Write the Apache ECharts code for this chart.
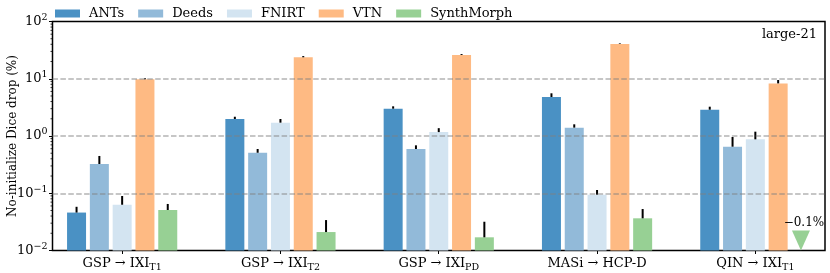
<!DOCTYPE html>
<html><head><meta charset="utf-8">
<script src="https://cdn.jsdelivr.net/npm/echarts@6/dist/echarts.min.js"></script>
<style>html,body{margin:0;padding:0;background:#fff}#c{width:830px;height:273px}</style>
</head><body><div id="c"></div>
<script>
// ---- data ----
const categories = [['GSP → IXI','T1'],['GSP → IXI','T2'],['GSP → IXI','PD'],['MASi → HCP-D',''],['QIN → IXI','T1']];
const methods = ['ANTs','Deeds','FNIRT','VTN','SynthMorph'];
const ants      = [0.046, 1.98, 3.0, 4.8, 2.88];
const antsErr   = [0.058, 2.17, 3.3, 5.57, 3.25];
const deeds     = [0.324, 0.51, 0.593, 1.40, 0.65];
const deedsErr  = [0.448, 0.593, 0.687, 1.6, 0.96];
const fnirt     = [0.063, 1.71, 1.17, 0.0944, 0.875];
const fnirtErr  = [0.0895, 1.98, 1.37, 0.114, 1.19];
const vtn       = [9.8, 23.7, 26.0, 40.5, 8.3];
const vtnErr    = [10.2, 24.9, 27.0, 41.5, 9.5];
const synth     = [0.051, 0.021, 0.017, 0.0365, -0.1];
const synthErr  = [0.065, 0.034, 0.0318, 0.053, null];
const yMin = 0.01, yMax = 100;
const gridLines = [0.1, 1, 10];
const minorTicks = [0.02,0.03,0.04,0.05,0.06,0.07,0.08,0.09,0.2,0.3,0.4,0.5,0.6,0.7,0.8,0.9,2,3,4,5,6,7,8,9,20,30,40,50,60,70,80,90];
const panelLabel = 'large-21';
const yTitle = 'No-initialize Dice drop (%)';

// ---- style ----
const FONT = 'DejaVu Serif';
const colors = ['#4a91c4','#92bad9','#d3e4f1','#feba83','#97d094'];
const BAR_W = 19, GAP = 3.8, PITCH = BAR_W + GAP;
const XMIN = -0.44, XMAX = 4.44;

const values = [ants, deeds, fnirt, vtn, synth];
const errs = [antsErr, deedsErr, fnirtErr, vtnErr, synthErr];

const series = [];
methods.forEach((m, k) => {
  series.push({
    name: m, type: 'bar', barWidth: BAR_W, barGap: (GAP / BAR_W * 100) + '%',
    itemStyle: { color: colors[k] },
    data: values[k].map((v, i) => [i, v > 0 ? v : '-']),
    z: 2
  });
});
methods.forEach((m, k) => {
  series.push({
    type: 'custom', silent: true, z: 4,
    data: values[k].map((v, i) => [i, v, errs[k][i]]).filter(d => d[1] > 0 && d[2] != null),
    encode: { x: 0, y: 1 },
    renderItem: (params, api) => {
      const x = api.value(0);
      const p0 = api.coord([x, api.value(1)]);
      const p1 = api.coord([x, api.value(2)]);
      const dx = (k - 2) * PITCH;
      return { type: 'line', shape: { x1: p0[0] + dx, y1: p0[1], x2: p0[0] + dx, y2: p1[1] },
               style: { stroke: '#000', lineWidth: 2 } };
    }
  });
});
// negative-value marker (SynthMorph)
series.push({
  type: 'custom', silent: true, z: 5,
  data: synth.map((v, i) => [i, v]).filter(d => d[1] < 0),
  encode: { x: 0 },
  renderItem: (params, api) => {
    const x = api.value(0), v = api.value(1);
    const p = api.coord([x, yMin]);
    const cx = p[0] + 2 * PITCH, by = p[1];
    return { type: 'group', children: [
      { type: 'polygon', shape: { points: [[cx - 9, by - 20], [cx + 9, by - 20], [cx, by]] },
        style: { fill: colors[4] } },
      { type: 'text', style: { text: '−' + Math.abs(v) + '%', x: cx + 3, y: by - 28, align: 'center',
        verticalAlign: 'middle', font: '12px "' + FONT + '"', fill: '#000' } }
    ]};
  }
});
// minor ticks
series.push({
  type: 'custom', silent: true, z: 6,
  data: minorTicks.map(t => [XMIN, t]),
  encode: { x: 0, y: 1 },
  renderItem: (params, api) => {
    const p = api.coord([api.value(0), api.value(1)]);
    return { type: 'line', shape: { x1: p[0] - 2, y1: p[1], x2: p[0], y2: p[1] }, style: { stroke: '#000', lineWidth: 0.8 } };
  }
});
// dashed grid lines on top
series.push({
  type: 'line', data: [], z: 8, silent: true,
  markLine: {
    silent: true, symbol: ['none', 'none'], label: { show: false },
    lineStyle: { color: 'rgba(128,128,128,0.6)', width: 1.5, type: [5.5, 2.4] },
    data: gridLines.map(g => ({ yAxis: g }))
  }
});

const option = {
  animation: false,
  backgroundColor: '#fff',
  textStyle: { fontFamily: FONT },
  legend: {
    data: methods, left: 50, top: 2, itemWidth: 25, itemHeight: 8, itemGap: 14, icon: 'rect',
    textStyle: { fontFamily: FONT, fontSize: 13, color: '#000', padding: [0, 0, 0, 4] }
  },
  grid: { left: 52.5, right: 5, top: 21.5, bottom: 22.5, containLabel: false, outerBoundsMode: 'none',
          show: true, borderColor: '#000', borderWidth: 1.5, backgroundColor: 'transparent' },
  xAxis: {
    type: 'value', min: XMIN, max: XMAX,
    axisLine: { show: false, onZero: false },
    splitLine: { show: false },
    axisTick: { show: true, length: 3.5, lineStyle: { color: '#000', width: 1 }, customValues: [0, 1, 2, 3, 4] },
    axisLabel: {
      customValues: [0, 1, 2, 3, 4], margin: 4,
      formatter: v => { const c = categories[Math.round(v)]; if (!c) return ''; return '{m|' + c[0] + '}' + (c[1] ? '{s|' + c[1] + '}' : ''); },
      rich: {
        m: { fontFamily: FONT, fontSize: 13, color: '#000', lineHeight: 18 },
        s: { fontFamily: FONT, fontSize: 9.5, color: '#000', lineHeight: 10, verticalAlign: 'bottom' }
      }
    }
  },
  yAxis: {
    type: 'log', logBase: 10, min: yMin, max: yMax, startValue: yMin,
    name: yTitle, nameLocation: 'middle', nameGap: 34, nameMoveOverlap: false,
    nameTextStyle: { fontFamily: FONT, fontSize: 12, color: '#000' },
    axisLine: { show: false, onZero: false },
    splitLine: { show: false },
    axisTick: { show: true, length: 3.5, lineStyle: { color: '#000', width: 1 } },
    axisLabel: {
      margin: 5,
      formatter: v => { const e = Math.round(Math.log10(v)); const s = String(e).replace('-', '−'); return '{b|10}{s|' + s + '}'; },
      rich: {
        b: { fontFamily: FONT, fontSize: 13, color: '#000', lineHeight: 18 },
        s: { fontFamily: FONT, fontSize: 9.5, color: '#000', lineHeight: 10, verticalAlign: 'top' }
      }
    }
  },
  graphic: [{ type: 'text', right: 13, top: 28, style: { text: panelLabel, font: '13px "' + FONT + '"', fill: '#000' } }],
  series
};
const chart = echarts.init(document.getElementById('c'), null, { renderer: 'canvas' });
chart.setOption(option);
</script></body></html>
